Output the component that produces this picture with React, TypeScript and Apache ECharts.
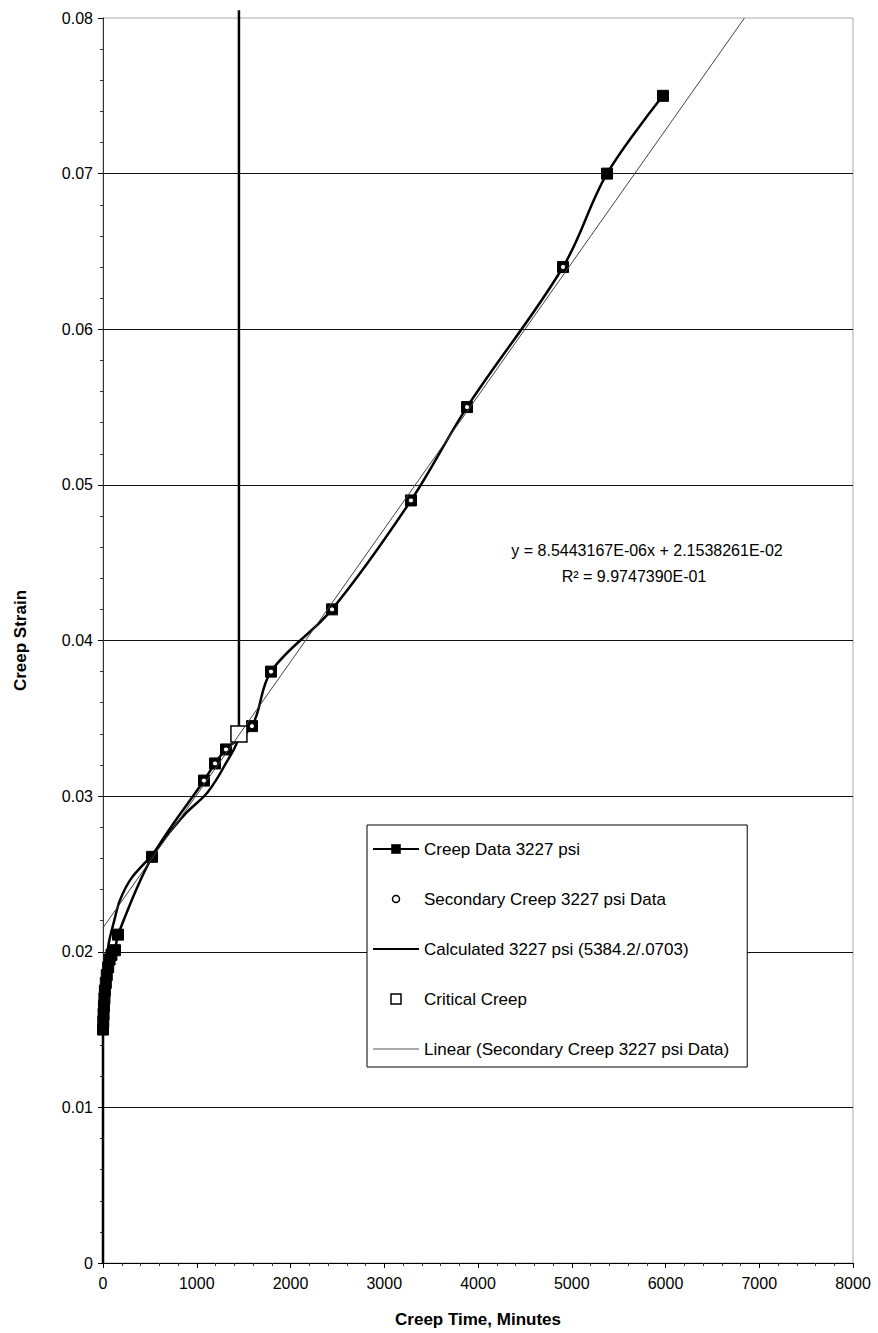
import React, { useEffect, useRef } from "react";
import * as echarts from "echarts";

const FONT = "Arial, 'Liberation Sans', sans-serif";

const xTicks = { min: 0, max: 8000, interval: 1000 };
const yTicks = { min: 0, max: 0.08, interval: 0.01 };

const creepDataX = [0, 3, 6, 10, 15, 20, 30, 40, 55, 70, 90, 128, 160, 523, 1077, 1195, 1312, 1589, 1792, 2443, 3285, 3883, 4907, 5376, 5973];
const creepDataY = [0.0150, 0.0155, 0.0160, 0.0165, 0.0170, 0.0175, 0.0180, 0.0185, 0.0190, 0.0195, 0.0198, 0.0201, 0.0211, 0.0261, 0.0310, 0.0321, 0.0330, 0.0345, 0.0380, 0.0420, 0.0490, 0.0550, 0.0640, 0.0700, 0.0750];

const secondaryX = [1077, 1195, 1312, 1589, 1792, 2443, 3285, 3883, 4907];
const secondaryY = [0.0310, 0.0321, 0.0330, 0.0345, 0.0380, 0.0420, 0.0490, 0.0550, 0.0640];

const calculatedX = [0, 0, 20, 60, 120, 180, 300, 520, 700, 900, 1110, 1300, 1450, 1450];
const calculatedY = [0, 0.0150, 0.0185, 0.0205, 0.0220, 0.0233, 0.0247, 0.0262, 0.0276, 0.0290, 0.0302, 0.0320, 0.0340, 0.0805];

const criticalX = [1450];
const criticalY = [0.0340];

const linearX = [0, 6842];
const linearY = [0.02154, 0.08];

const names = [
  "Creep Data 3227 psi",
  "Secondary Creep 3227 psi Data",
  "Calculated 3227 psi (5384.2/.0703)",
  "Critical Creep",
  "Linear (Secondary Creep 3227 psi Data)",
];

const equationText = "y = 8.5443167E-06x + 2.1538261E-02";
const r2Text = "R² = 9.9747390E-01";

const zip = (xs: number[], ys: number[]) => xs.map((x, i) => [x, ys[i]]);

// legend icons drawn in a 46x12 box (corner moves fix the bounding box)
const ICON_CIRCLE = "path://M0,0M46,12M19.5,6a3.5,3.5 0 1,0 7,0a3.5,3.5 0 1,0 -7,0z";
const ICON_SQUARE = "path://M0,0M46,12M18,1h10v10h-10z";
const ICON_THICK_LINE = "path://M0,0M46,12M0,5h46v2h-46z";
const ICON_THIN_LINE = "path://M0,0M46,12M0,5.5h46v1h-46z";

export default function App() {
  const ref = useRef<HTMLDivElement>(null);
  useEffect(() => {
    if (!ref.current) return;
    const chart = echarts.init(ref.current, undefined, { renderer: "svg" });
    chart.setOption({
      animation: false,
      backgroundColor: "#fff",
      textStyle: { fontFamily: FONT, color: "#000" },
      grid: {
        left: 103,
        right: 25,
        top: 18,
        bottom: 70,
        show: true,
        borderColor: "#aaa",
        borderWidth: 1,
        containLabel: false,
      },
      xAxis: {
        type: "value",
        ...xTicks,
        name: "Creep Time, Minutes",
        nameLocation: "middle",
        nameGap: 48,
        nameTextStyle: { fontSize: 17, fontWeight: "bold", fontFamily: FONT, color: "#000" },
        axisLine: { show: true, onZero: false, lineStyle: { color: "#000", width: 1 } },
        axisTick: { show: true, length: 5, lineStyle: { color: "#000" } },
        minorTick: { show: true, splitNumber: 5, length: 3, lineStyle: { color: "#333" } },
        axisLabel: {
          fontSize: 16,
          margin: 12,
          color: "#000",
          fontFamily: FONT,
          formatter: (v: number) => String(v),
        },
        splitLine: { show: false },
      },
      yAxis: {
        type: "value",
        ...yTicks,
        name: "Creep Strain",
        nameLocation: "middle",
        nameGap: 74,
        nameTextStyle: { fontSize: 17, fontWeight: "bold", fontFamily: FONT, color: "#000" },
        axisLine: { show: true, onZero: false, lineStyle: { color: "#333", width: 1 } },
        axisTick: { show: true, length: 5, lineStyle: { color: "#000" } },
        minorTick: { show: true, splitNumber: 5, length: 3, lineStyle: { color: "#333" } },
        axisLabel: { fontSize: 16, margin: 10, color: "#000", fontFamily: FONT },
        splitLine: { show: true, showMaxLine: false, lineStyle: { color: "#111", width: 1 } },
      },
      legend: {
        orient: "vertical",
        left: 367,
        top: 825,
        padding: [14, 18, 8, 5],
        itemGap: 30,
        itemWidth: 46,
        itemHeight: 12,
        backgroundColor: "#fff",
        borderColor: "#000",
        borderWidth: 1,
        borderRadius: 0,
        textStyle: { fontSize: 17, lineHeight: 20, color: "#000", fontFamily: FONT },
        data: [
          { name: names[0] },
          {
            name: names[1],
            icon: ICON_CIRCLE,
            itemStyle: { color: "#fff", borderColor: "#000", borderWidth: 1.5 },
          },
          {
            name: names[2],
            icon: ICON_THICK_LINE,
            itemStyle: { color: "#000", borderWidth: 0 },
          },
          {
            name: names[3],
            icon: ICON_SQUARE,
            itemStyle: { color: "#fff", borderColor: "#000", borderWidth: 1.5 },
          },
          {
            name: names[4],
            icon: ICON_THIN_LINE,
            itemStyle: { color: "#555", borderWidth: 0 },
          },
        ],
      },
      series: [
        {
          name: names[0],
          type: "line",
          data: zip(creepDataX, creepDataY),
          smooth: 0.35,
          symbol: "rect",
          symbolSize: 11,
          showSymbol: true,
          showAllSymbol: true,
          lineStyle: { color: "#000", width: 2.5 },
          itemStyle: { color: "#000", borderColor: "#000" },
          z: 2,
        },
        {
          name: names[1],
          type: "scatter",
          data: zip(secondaryX, secondaryY),
          symbol: "circle",
          symbolSize: 5,
          itemStyle: { color: "#fff", borderColor: "#000", borderWidth: 1, opacity: 1 },
          z: 5,
        },
        {
          name: names[2],
          type: "line",
          data: zip(calculatedX, calculatedY),
          smooth: 0.3,
          symbol: "none",
          clip: false,
          lineStyle: { color: "#000", width: 2.5 },
          itemStyle: { color: "#000" },
          z: 3,
        },
        {
          name: names[3],
          type: "scatter",
          data: zip(criticalX, criticalY),
          symbol: "rect",
          symbolSize: 16,
          itemStyle: { color: "#fff", borderColor: "#000", borderWidth: 1.5, opacity: 1 },
          z: 4,
        },
        {
          name: names[4],
          type: "line",
          data: zip(linearX, linearY),
          symbol: "none",
          lineStyle: { color: "#444", width: 1 },
          itemStyle: { color: "#444" },
          z: 6,
        },
      ],
      graphic: [
        {
          type: "text",
          x: 647,
          y: 550,
          style: {
            text: equationText,
            fontSize: 16,
            fontFamily: FONT,
            fill: "#000",
            textAlign: "center",
            textVerticalAlign: "middle",
          },
          z: 10,
        },
        {
          type: "text",
          x: 634,
          y: 576,
          style: {
            text: r2Text,
            fontSize: 16,
            fontFamily: FONT,
            fill: "#000",
            textAlign: "center",
            textVerticalAlign: "middle",
          },
          z: 10,
        },
      ],
    });
    return () => chart.dispose();
  }, []);
  return (
    <div
      ref={ref}
      style={{ position: "absolute", left: 0, top: 0, width: 878, height: 1333, background: "#fff" }}
    />
  );
}
